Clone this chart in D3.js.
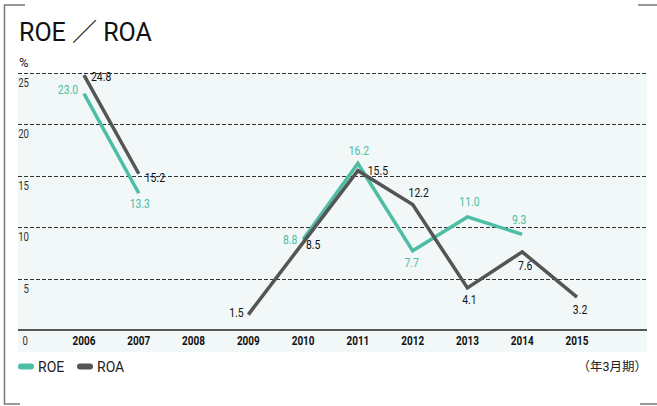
<!DOCTYPE html>
<html>
<head>
<meta charset="utf-8">
<script src="https://cdn.jsdelivr.net/npm/d3@7"></script>
<style>
  body { margin: 0; background: #fff; }
  svg { display: block; }
  text { font-family: Roboto, "Noto Sans CJK JP", sans-serif; }
</style>
</head>
<body>
<svg id="chart" width="657" height="406"></svg>
<script>
// data
const years = [2006, 2007, 2008, 2009, 2010, 2011, 2012, 2013, 2014, 2015];
const roe = [23.0, 13.3, null, null, 8.8, 16.2, 7.7, 11.0, 9.3, null];
const roa = [24.8, 15.2, null, 1.5, 8.5, 15.5, 12.2, 4.1, 7.6, 3.2];
const yTicks = [5, 10, 15, 20, 25];

const roeColor = "#4dbda6";
const roaColor = "#555555";

const svg = d3.select("#chart");

// frame corners
const frame = svg.append("g").attr("stroke", "#777").attr("stroke-width", 1.5).attr("fill", "none");
frame.append("path").attr("d", "M25,5H4.5V404H20");
frame.append("path").attr("d", "M638,5H657");
frame.append("path").attr("d", "M640,404H657");

// title
svg.append("text").attr("x", 19).attr("y", 41)
  .attr("font-size", 25).attr("fill", "#111")
  .text("ROE ／ ROA");
svg.append("text").attr("x", 19).attr("y", 67)
  .attr("font-size", 13).attr("fill", "#222")
  .text("%");

const x = d3.scaleLinear().domain([2006, 2015]).range([84, 577]);
const y = d3.scaleLinear().domain([0, 25]).range([330, 73]);

// background
svg.append("rect").attr("x", 18).attr("y", y(25)).attr("width", 629).attr("height", 352 - y(25))
  .attr("fill", "#f2f7f7");

// gridlines
svg.append("g").selectAll("line").data(yTicks).join("line")
  .attr("x1", 18).attr("x2", 647)
  .attr("y1", d => Math.round(y(d)) + 0.5).attr("y2", d => Math.round(y(d)) + 0.5)
  .attr("stroke", "#333").attr("stroke-width", 1).attr("stroke-dasharray", "4,2");

svg.append("line").attr("x1", 18).attr("x2", 647)
  .attr("y1", y(0)).attr("y2", y(0))
  .attr("stroke", "#222").attr("stroke-width", 1.5);

const condensed = "scale(0.8,1)";

// y labels
svg.append("g").selectAll("text").data(yTicks).join("text")
  .attr("transform", d => `translate(29,${y(d) + 14}) ${condensed}`)
  .attr("text-anchor", "end").attr("font-size", 12).attr("fill", "#333")
  .text(d => d);
svg.append("text").attr("transform", `translate(28,345) ${condensed}`)
  .attr("text-anchor", "end").attr("font-size", 12).attr("fill", "#333").text("0");

// x labels
svg.append("g").selectAll("text").data(years).join("text")
  .attr("transform", d => `translate(${x(d)},345) ${condensed}`)
  .attr("text-anchor", "middle").attr("font-size", 12.5).attr("font-weight", "bold").attr("fill", "#111")
  .text(d => d);

// lines
function drawSeries(vals, color) {
  const pts = years.map((yr, i) => ({ yr, v: vals[i] }));
  const line = d3.line().defined(d => d.v != null).x(d => x(d.yr)).y(d => y(d.v));
  svg.append("path").datum(pts).attr("d", line)
    .attr("fill", "none").attr("stroke", color).attr("stroke-width", 3.5)
    .attr("stroke-linejoin", "miter");
  return pts.filter(d => d.v != null);
}
const roeSeg = drawSeries(roe, roeColor);
const roaSeg = drawSeries(roa, roaColor);

// label offsets (dx, dy from point, anchor)
const roeOff = {
  2006: [-16, 0, "middle"], 2007: [1, 15, "middle"], 2010: [-13, 4, "middle"],
  2011: [1, -8, "middle"], 2012: [-1, 16, "middle"], 2013: [2, -11, "middle"], 2014: [-3, -10, "middle"]
};
const roaOff = {
  2006: [7, 6, "start"], 2007: [6, 8, "start"], 2009: [-12, 2, "middle"], 2010: [10, 6, "middle"],
  2011: [20, 4, "middle"], 2012: [6, -8, "middle"], 2013: [2, 16, "middle"], 2014: [3, 18, "middle"],
  2015: [3, 17, "middle"]
};

function drawLabels(seg, off, color) {
  svg.append("g").selectAll("text").data(seg).join("text")
    .attr("transform", d => `translate(${x(d.yr) + off[d.yr][0]},${y(d.v) + off[d.yr][1]}) ${condensed}`)
    .attr("text-anchor", d => off[d.yr][2])
    .attr("font-size", 13).attr("fill", color)
    .text(d => d.v.toFixed(1));
}
drawLabels(roeSeg, roeOff, roeColor);
drawLabels(roaSeg, roaOff, "#111");

// legend
const legend = [["ROE", roeColor, 18], ["ROA", roaColor, 77]];
legend.forEach(([name, color, lx]) => {
  svg.append("rect").attr("x", lx).attr("y", 363.5).attr("width", 16).attr("height", 6)
    .attr("rx", 3).attr("fill", color);
  svg.append("text").attr("x", lx + 20).attr("y", 372)
    .attr("font-size", 14).attr("fill", "#222").text(name);
});
svg.append("text").attr("x", 647).attr("y", 371).attr("text-anchor", "end")
  .attr("font-size", 12.5).attr("fill", "#222").text("（年3月期）");
</script>
</body>
</html>
